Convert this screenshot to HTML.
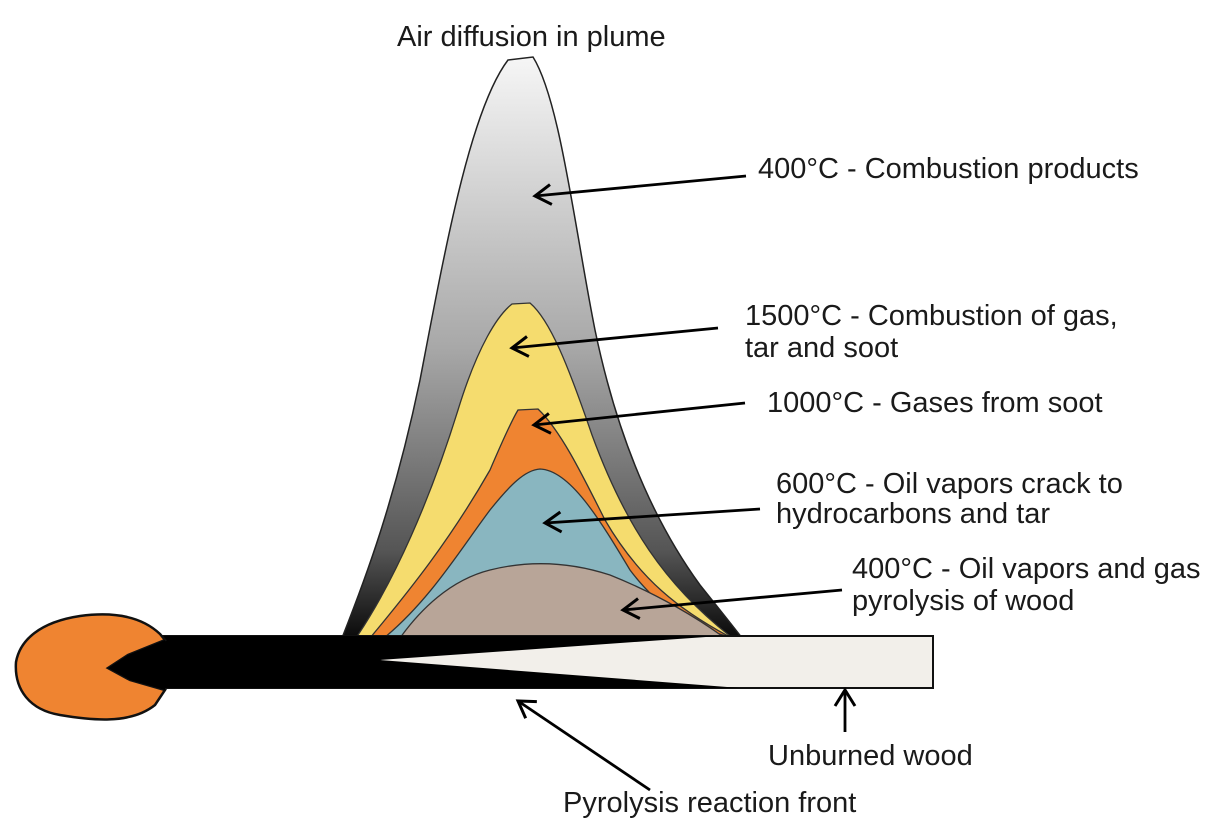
<!DOCTYPE html>
<html><head><style>body{margin:0;background:#fff}svg{display:block}text{font-family:"Liberation Sans",sans-serif;font-size:29px;fill:#1a1a1a}</style></head><body>
<svg width="1219" height="833" viewBox="0 0 1219 833">
<defs>
<linearGradient id="g" x1="0" y1="0" x2="0" y2="1"><stop offset="0" stop-color="#f6f6f6"/><stop offset="0.5" stop-color="#a8a8a8"/><stop offset="0.85" stop-color="#555"/><stop offset="1" stop-color="#0a0a0a"/></linearGradient>
<marker id="a" markerWidth="22" markerHeight="24" refX="19" refY="12" orient="auto" markerUnits="userSpaceOnUse"><path d="M3,2 L19,12 L3,22" fill="none" stroke="#000" stroke-width="3"/></marker>
</defs>
<path d="M342,638 C365,580 395,500 420,380 C445,250 470,110 508,60 L533,57 C560,100 575,230 595,330 C620,450 660,530 700,585 C720,610 732,625 742,638 Z" fill="url(#g)" stroke="#222" stroke-width="1.5"/>
<path d="M356,638 C395,580 430,500 458,410 C478,345 498,315 512,304 L530,303 C550,320 568,365 592,435 C625,525 665,585 730,636 Z" fill="#f5dc6e" stroke="#333" stroke-width="1.3"/>
<path d="M370,638 C410,590 450,540 490,470 C505,435 512,420 518,410 L538,409 C560,430 580,470 605,520 C640,580 680,610 728,636 Z" fill="#ef8431" stroke="#333" stroke-width="1.3"/>
<path d="M384,638 C430,600 460,550 490,510 C510,485 525,470 540,469 C570,470 600,520 630,570 C660,610 690,625 726,636 Z" fill="#89b6c0" stroke="#333" stroke-width="1.3"/>
<path d="M400,638 C420,610 450,580 490,570 C530,560 570,562 610,575 C660,595 700,620 722,636 Z" fill="#b8a598" stroke="#333" stroke-width="1.3"/>
<rect x="150" y="636" width="783" height="52" fill="#f2efea" stroke="#111" stroke-width="2"/>
<path d="M150,636 L720,636 L380,660 L740,688 L150,688 Z" fill="#000"/>
<path d="M160,634 C140,615 110,612 80,616 C40,622 20,640 16,662 C14,690 30,710 60,715 C90,720 130,725 155,705 L165,690 L130,680 L108,668 L128,655 L165,640 Z" fill="#ef8431" stroke="#111" stroke-width="2.5"/>
<path d="M165,640 L128,655 L108,668 L130,680 L165,690 Z" fill="#000"/>
<g stroke="#000" stroke-width="2.8" fill="none">
<line x1="746" y1="176" x2="535" y2="196" marker-end="url(#a)"/>
<line x1="718" y1="328" x2="512" y2="348" marker-end="url(#a)"/>
<line x1="745" y1="403" x2="534" y2="425" marker-end="url(#a)"/>
<line x1="760" y1="509" x2="545" y2="523" marker-end="url(#a)"/>
<line x1="842" y1="590" x2="623" y2="610" marker-end="url(#a)"/>
<line x1="845" y1="732" x2="845" y2="690" marker-end="url(#a)"/>
<line x1="650" y1="790" x2="518" y2="701" marker-end="url(#a)"/>
</g>
<text x="397" y="46">Air diffusion in plume</text>
<text x="758" y="178">400°C - Combustion products</text>
<text x="745" y="325">1500°C - Combustion of gas,</text>
<text x="745" y="357">tar and soot</text>
<text x="767" y="412">1000°C - Gases from soot</text>
<text x="776" y="493">600°C - Oil vapors crack to</text>
<text x="776" y="523">hydrocarbons and tar</text>
<text x="852" y="578">400°C - Oil vapors and gas</text>
<text x="852" y="610">pyrolysis of wood</text>
<text x="768" y="765">Unburned wood</text>
<text x="563" y="812">Pyrolysis reaction front</text>
</svg>
</body></html>
